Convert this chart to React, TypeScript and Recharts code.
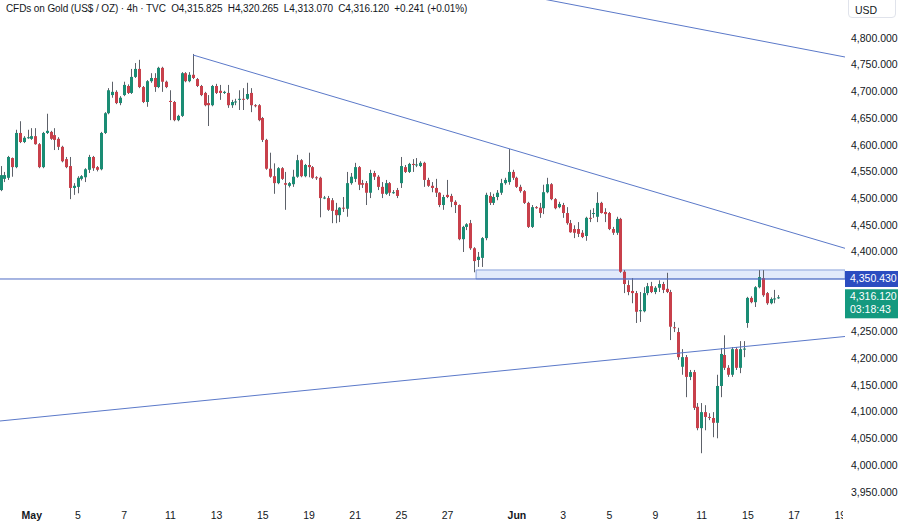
import { ComposedChart, Bar, XAxis, YAxis, ReferenceLine, ReferenceArea } from "recharts";

// 4h candles, index 0 = first visible bar (6 bars per trading day)
const opens = [
  4517, 4538, 4540, 4577, 4560, 4624, 4607, 4615, 4613, 4618, 4603, 4560, 4624, 4626, 4620, 4613, 4598, 4575, 4562, 4521,
  4523, 4538, 4541, 4555, 4579, 4560, 4556, 4624, 4661, 4695, 4701, 4680, 4695, 4712, 4699, 4729, 4744, 4710, 4682, 4721,
  4727, 4710, 4746, 4720, 4684, 4682, 4648, 4656, 4736, 4721, 4733, 4725, 4712, 4699, 4680, 4676, 4712, 4703, 4699, 4699,
  4676, 4682, 4686, 4688, 4688, 4699, 4676, 4676, 4652, 4611, 4557, 4543, 4530, 4558, 4530, 4525, 4528, 4542, 4573, 4543,
  4564, 4560, 4541, 4540, 4502, 4502, 4498, 4480, 4470, 4484, 4482, 4530, 4538, 4560, 4530, 4530, 4512, 4549, 4542, 4523,
  4510, 4530, 4512, 4517, 4530, 4560, 4551, 4566, 4564, 4562, 4568, 4536, 4525, 4521, 4512, 4489, 4508, 4506, 4495, 4489,
  4425, 4448, 4455, 4408, 4386, 4390, 4427, 4506, 4493, 4504, 4512, 4530, 4532, 4551, 4540, 4523, 4515, 4493, 4448, 4485,
  4484, 4483, 4513, 4528, 4500, 4485, 4489, 4474, 4455, 4444, 4444, 4437, 4431, 4465, 4473, 4467, 4493, 4476, 4474, 4444,
  4437, 4463, 4364, 4339, 4328, 4324, 4290, 4290, 4324, 4337, 4326, 4334, 4341, 4332, 4326, 4260, 4251, 4186, 4204, 4167,
  4176, 4111, 4071, 4101, 4092, 4090, 4081, 4150, 4208, 4184, 4171, 4219, 4184, 4219, 4268, 4315, 4307, 4335, 4352, 4324,
  4305, 4313, 4315.825,
];
const highs = [
  4562, 4551, 4581, 4578, 4630, 4646, 4618, 4630, 4633, 4633, 4605, 4626, 4660, 4628, 4633, 4616, 4600, 4579, 4579, 4530,
  4543, 4545, 4558, 4583, 4581, 4562, 4626, 4663, 4708, 4720, 4704, 4693, 4720, 4715, 4744, 4755, 4761, 4712, 4723, 4736,
  4736, 4748, 4748, 4722, 4704, 4684, 4658, 4738, 4738, 4738, 4772, 4727, 4714, 4701, 4695, 4714, 4716, 4714, 4703, 4714,
  4686, 4688, 4704, 4708, 4718, 4708, 4678, 4678, 4654, 4613, 4587, 4567, 4560, 4560, 4551, 4532, 4555, 4583, 4575, 4566,
  4587, 4562, 4543, 4542, 4506, 4506, 4502, 4493, 4485, 4504, 4551, 4549, 4568, 4562, 4536, 4534, 4555, 4553, 4545, 4532,
  4536, 4532, 4517, 4521, 4579, 4564, 4568, 4575, 4577, 4571, 4570, 4540, 4532, 4538, 4513, 4508, 4536, 4510, 4498, 4490,
  4450, 4455, 4461, 4410, 4401, 4429, 4512, 4513, 4510, 4517, 4538, 4540, 4594, 4555, 4542, 4527, 4517, 4495, 4489, 4487,
  4493, 4527, 4540, 4530, 4502, 4495, 4493, 4485, 4461, 4451, 4457, 4442, 4467, 4480, 4483, 4513, 4495, 4483, 4476, 4448,
  4467, 4465, 4367, 4348, 4352, 4328, 4326, 4335, 4343, 4345, 4337, 4348, 4345, 4362, 4330, 4270, 4259, 4219, 4208, 4180,
  4180, 4118, 4118, 4114, 4099, 4101, 4171, 4221, 4245, 4189, 4223, 4223, 4234, 4234, 4317, 4318, 4337, 4367, 4367, 4326,
  4316, 4330, 4320.265,
];
const lows = [
  4515, 4532, 4536, 4542, 4558, 4605, 4605, 4613, 4611, 4602, 4558, 4558, 4622, 4611, 4592, 4592, 4569, 4558, 4500, 4508,
  4511, 4535, 4532, 4549, 4553, 4552, 4554, 4622, 4659, 4690, 4678, 4676, 4693, 4697, 4697, 4727, 4708, 4680, 4673, 4718,
  4701, 4708, 4701, 4708, 4648, 4646, 4646, 4654, 4719, 4719, 4725, 4710, 4693, 4674, 4637, 4674, 4697, 4686, 4697, 4671,
  4671, 4676, 4667, 4667, 4686, 4663, 4672, 4646, 4607, 4555, 4540, 4510, 4528, 4536, 4480, 4522, 4523, 4540, 4541, 4541,
  4541, 4538, 4536, 4466, 4500, 4478, 4455, 4455, 4457, 4476, 4467, 4527, 4532, 4517, 4521, 4489, 4502, 4536, 4517, 4502,
  4508, 4506, 4510, 4502, 4521, 4549, 4549, 4551, 4560, 4560, 4523, 4523, 4513, 4504, 4485, 4480, 4502, 4485, 4474, 4423,
  4401, 4442, 4405, 4363, 4373, 4373, 4423, 4489, 4489, 4498, 4508, 4527, 4527, 4536, 4521, 4512, 4491, 4446, 4446, 4482,
  4465, 4472, 4511, 4498, 4481, 4483, 4465, 4452, 4437, 4427, 4429, 4427, 4422, 4457, 4465, 4457, 4473, 4457, 4442, 4433,
  4433, 4362, 4324, 4320, 4305, 4268, 4270, 4288, 4320, 4324, 4322, 4326, 4324, 4324, 4236, 4251, 4199, 4171, 4129, 4161,
  4105, 4067, 4024, 4067, 4086, 4054, 4052, 4129, 4180, 4167, 4167, 4180, 4174, 4204, 4259, 4305, 4298, 4333, 4317, 4302,
  4303, 4305, 4313.07,
];
const closes = [
  4545, 4545, 4579, 4560, 4624, 4607, 4615, 4616, 4618, 4603, 4560, 4624, 4628, 4613, 4611, 4598, 4571, 4560, 4521, 4525,
  4540, 4543, 4556, 4579, 4558, 4555, 4624, 4661, 4704, 4701, 4680, 4690, 4714, 4699, 4729, 4744, 4710, 4682, 4721, 4727,
  4710, 4746, 4720, 4710, 4682, 4648, 4656, 4736, 4721, 4733, 4727, 4712, 4695, 4676, 4676, 4712, 4699, 4699, 4701, 4676,
  4682, 4683, 4688, 4687, 4697, 4676, 4675, 4648, 4611, 4557, 4542, 4530, 4558, 4538, 4527, 4530, 4542, 4573, 4543, 4564,
  4560, 4540, 4540, 4502, 4503, 4480, 4478, 4470, 4484, 4483, 4530, 4542, 4560, 4527, 4527, 4512, 4549, 4542, 4523, 4510,
  4530, 4512, 4513, 4506, 4562, 4551, 4566, 4564, 4565, 4568, 4536, 4525, 4521, 4512, 4489, 4504, 4504, 4495, 4489, 4425,
  4448, 4453, 4408, 4384, 4392, 4427, 4508, 4493, 4504, 4512, 4530, 4536, 4551, 4540, 4523, 4515, 4493, 4448, 4485, 4484,
  4474, 4513, 4528, 4500, 4483, 4491, 4474, 4455, 4438, 4437, 4435, 4429, 4465, 4464, 4474, 4493, 4474, 4472, 4444, 4437,
  4463, 4364, 4341, 4326, 4324, 4289, 4292, 4324, 4337, 4326, 4334, 4341, 4330, 4326, 4261, 4259, 4204, 4204, 4167, 4176,
  4109, 4071, 4101, 4092, 4091, 4081, 4150, 4210, 4184, 4171, 4219, 4184, 4219, 4220, 4315, 4307, 4335, 4354, 4320, 4305,
  4313, 4314, 4316.12,
];

// date ticks (bar index of first bar of the day)
const dayTicks = [8, 20, 32, 44, 56, 68, 80, 92, 104, 116, 134, 146, 158, 170, 182, 194, 206, 218];
const dayLabels = ["May", "5", "7", "11", "13", "15", "19", "21", "25", "27", "Jun", "3", "5", "9", "11", "15", "17", "19"];
const monthLabels = ["May", "Jun"];

const priceTicks = [3950, 4000, 4050, 4100, 4150, 4200, 4250, 4400, 4450, 4500, 4550, 4600, 4650, 4700, 4750, 4800];

// drawings: [barIndex, price]
const upperTrend = [[49.87, 4770.1], [219.22, 4407.9]];
const topTrend = [[135.0, 4883.0], [219.22, 4766.3]];
const lowerTrend = [[-0.26, 4084.4], [219.22, 4242.7]];
const levelPrice = 4350.43;
const zoneTop = 4367.3;
const zoneStart = 123.4;
const lastPrice = 4316.12;
const countdown = "03:18:43";

const X_DOMAIN = [-0.26, 219.22];
const Y_DOMAIN = [3927.0, 4873.1];

const UP = "#1a8c74";
const DOWN = "#c8404b";
const WICK = "#5d6169";
const LINE = "#5b79c9";
const TEXT = "#131722";
const FONT = "'Liberation Sans', Arial, sans-serif";

const data = opens.map((o, i) => ({ i, o, h: highs[i], l: lows[i], c: closes[i] }));

const fmt = (v: number) =>
  v.toLocaleString("en-US", { minimumFractionDigits: 3, maximumFractionDigits: 3 });

function Candle(props: any) {
  const { x, y, width, height, payload } = props;
  if (!payload) return null;
  const { o, h, l, c } = payload;
  const top = Math.min(y, y + height);
  const hh = Math.abs(height);
  const k = h === l ? 0 : hh / (h - l);
  const bTop = top + (h - Math.max(o, c)) * k;
  const bBot = top + (h - Math.min(o, c)) * k;
  const cx = Math.round(x + width / 2) + 0.5;
  const col = c >= o ? UP : DOWN;
  return (
    <g>
      <line x1={cx} x2={cx} y1={top} y2={top + hh} stroke={WICK} strokeWidth={1} />
      <rect x={cx - 1.5} y={bTop} width={3} height={Math.max(1, bBot - bTop)} fill={col} />
    </g>
  );
}

function DayTick(props: any) {
  const { x, payload } = props;
  const idx = dayTicks.indexOf(payload.value);
  const label = dayLabels[idx] ?? "";
  const bold = monthLabels.includes(label);
  return (
    <text x={x} y={516} textAnchor="middle" dominantBaseline="middle" fontSize={10.5}
          fontFamily={FONT} fontWeight={bold ? 700 : 400} fill={TEXT}>
      {label}
    </text>
  );
}

function PriceTick(props: any) {
  const { y, payload } = props;
  return (
    <text x={851} y={y} dominantBaseline="middle" fontSize={10.5} fontFamily={FONT} fill={TEXT}>
      {fmt(payload.value)}
    </text>
  );
}

function LevelLabel(props: any) {
  const vb = props.viewBox;
  const x = vb.x + vb.width;
  return (
    <g>
      <rect x={x} y={vb.y - 8} width={53} height={16} fill="#2b4cc0" />
      <text x={x + 5} y={vb.y} dominantBaseline="middle" fontSize={10.5} fontFamily={FONT} fill="#fff">
        {fmt(levelPrice)}
      </text>
    </g>
  );
}

function LastLabel(props: any) {
  const vb = props.viewBox;
  const x = vb.x + vb.width;
  return (
    <g>
      <rect x={x} y={vb.y - 8} width={53} height={29} fill="#14997f" />
      <text x={x + 5} y={vb.y} dominantBaseline="middle" fontSize={10.5} fontFamily={FONT} fill="#fff">
        {fmt(lastPrice)}
      </text>
      <text x={x + 5} y={vb.y + 13} dominantBaseline="middle" fontSize={10.5} fontFamily={FONT} fill="#fff">
        {countdown}
      </text>
    </g>
  );
}

export default function App() {
  const seg = (s: number[][]) => s.map(([x, y]) => ({ x, y }));
  return (
    <div style={{ position: "relative", width: 900, height: 523, background: "#fff", overflow: "hidden" }}>
      <style>{"body{margin:0}"}</style>
      <ComposedChart width={900} height={523} data={data} margin={{ top: 0, right: 0, left: 0, bottom: 0 }}>
        <XAxis dataKey="i" type="number" domain={X_DOMAIN} allowDataOverflow ticks={dayTicks}
               interval={0} height={18} axisLine={false} tickLine={false} tick={<DayTick />} />
        <YAxis orientation="right" type="number" domain={Y_DOMAIN} allowDataOverflow ticks={priceTicks}
               interval={0} width={55} axisLine={false} tickLine={false} tick={<PriceTick />} />
        <ReferenceArea x1={zoneStart} x2={X_DOMAIN[1]} y1={levelPrice} y2={zoneTop}
                       fill="#e2eafb" fillOpacity={1} stroke="#8aa2dc" strokeWidth={1} ifOverflow="hidden" />
        <ReferenceLine y={levelPrice} stroke="#4f6cc4" strokeWidth={1} label={<LevelLabel />} />
        <ReferenceLine segment={seg(upperTrend)} stroke={LINE} strokeWidth={1} ifOverflow="hidden" />
        <ReferenceLine segment={seg(topTrend)} stroke={LINE} strokeWidth={1} ifOverflow="hidden" />
        <ReferenceLine segment={seg(lowerTrend)} stroke={LINE} strokeWidth={1} ifOverflow="hidden" />
        <Bar dataKey={(d: any) => [d.l, d.h]} barSize={3} shape={<Candle />} isAnimationActive={false} />
        <ReferenceLine y={lastPrice} stroke="none" label={<LastLabel />} />
      </ComposedChart>
      <div style={{ position: "absolute", left: 6, top: 3, fontFamily: FONT, fontSize: 10, letterSpacing: -0.1,
                    color: TEXT, whiteSpace: "pre" }}>
        {"CFDs on Gold (US$ / OZ) · 4h · TVC  O4,315.825  H4,320.265  L4,313.070  C4,316.120  +0.241 (+0.01%)"}
      </div>
      <div style={{ position: "absolute", left: 843, top: 505, width: 57, height: 18, background: "#fff" }} />
      <div style={{ position: "absolute", left: 848, top: -4, width: 48, height: 22, border: "1px solid #e0e3eb",
                    borderRadius: 4, boxSizing: "border-box", fontFamily: FONT, fontSize: 10.5, color: TEXT,
                    paddingLeft: 6, paddingTop: 7 }}>
        USD
      </div>
    </div>
  );
}
